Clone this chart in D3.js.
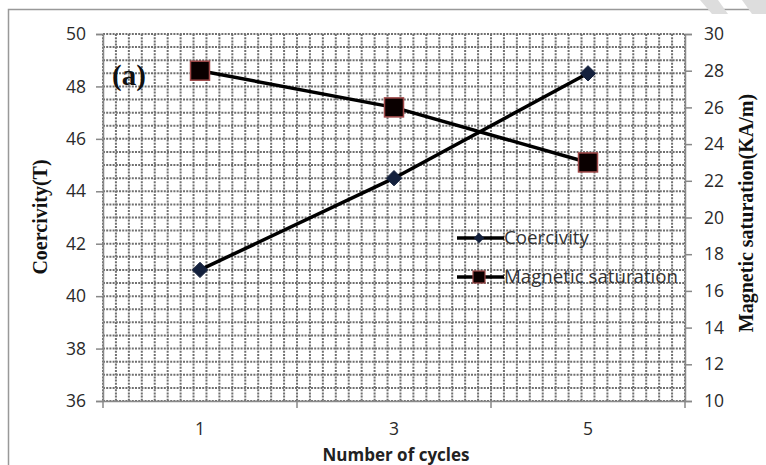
<!DOCTYPE html>
<html><head><meta charset="utf-8">
<script src="https://cdn.jsdelivr.net/npm/d3@7"></script>
<style>body{margin:0;background:#fff}svg{display:block}</style>
</head><body>
<script>
const cycles = ["1","3","5"];
const coercivity = [41, 44.5, 48.5];
const magSat = [28, 26, 23];
const leftTicks = [36,38,40,42,44,46,48,50];
const rightTicks = [10,12,14,16,18,20,22,24,26,28,30];

const W=766,H=465;
const m={l:103,r:685,t:34,b:401};
const svg=d3.select("body").append("svg").attr("width",W).attr("height",H);

svg.append("rect").attr("x",8.5).attr("y",9.5).attr("width",W).attr("height",H).attr("fill","none").attr("stroke","#999").attr("stroke-width",1.5);
svg.append("path").attr("d","M700,0 L718,0 L728,14 L712,14 Z").attr("fill","#ddd");
svg.append("path").attr("d","M742,0 L766,0 L766,14 L752,14 Z").attr("fill","#ddd");

const x=d3.scaleBand().domain(cycles).range([m.l,m.r]);
const yL=d3.scaleLinear().domain([36,50]).range([m.b,m.t]);
const yR=d3.scaleLinear().domain([10,30]).range([m.b,m.t]);

const g=svg.append("g");
const hLines=d3.range(36,50.001,0.5);
g.selectAll("line.h").data(hLines).join("line").attr("class","h")
 .attr("x1",m.l).attr("x2",m.r).attr("y1",d=>yL(d)).attr("y2",d=>yL(d))
 .attr("stroke","#707070").attr("stroke-width",2).attr("stroke-dasharray","2,1.2");
const nV=45;
const vLines=d3.range(0,nV+1).map(i=>m.l+(m.r-m.l)*i/nV);
g.selectAll("line.v").data(vLines).join("line").attr("class","v")
 .attr("x1",d=>d).attr("x2",d=>d).attr("y1",m.t).attr("y2",m.b)
 .attr("stroke","#707070").attr("stroke-width",2).attr("stroke-dasharray","2,1.2");

const tickFont="'Open Sans', 'Liberation Sans', sans-serif";
const axL=svg.append("g").attr("transform",`translate(${m.l},0)`).call(d3.axisLeft(yL).tickValues(leftTicks).tickSize(7).tickPadding(10));
const axR=svg.append("g").attr("transform",`translate(${m.r},0)`).call(d3.axisRight(yR).tickValues(rightTicks).tickSize(7).tickPadding(12));
const axB=svg.append("g").attr("transform",`translate(0,${m.b})`).call(d3.axisBottom(x).tickSize(0).tickPadding(22));
svg.append("g").selectAll("line").data(d3.range(0,cycles.length+1)).join("line")
 .attr("x1",i=>m.l+x.step()*i).attr("x2",i=>m.l+x.step()*i).attr("y1",m.b).attr("y2",m.b+7)
 .attr("stroke","#888").attr("stroke-width",1.5);
[axL,axR,axB].forEach(a=>{
  a.selectAll("path.domain").attr("stroke","#888").attr("stroke-width",1.5);
  a.selectAll(".tick line").attr("stroke","#888").attr("stroke-width",1.5);
  a.selectAll("text").attr("font-family",tickFont).attr("font-size",17.5).attr("fill","#2a2a2a");
});

const serif="'Liberation Serif','DejaVu Serif',serif";
svg.append("text").attr("transform","translate(47,217) rotate(-90)").attr("text-anchor","middle")
 .attr("font-family",serif).attr("font-weight","bold").attr("font-size",20).attr("fill","#111").text("Coercivity(T)");
svg.append("text").attr("transform","translate(753,213) rotate(-90)").attr("text-anchor","middle")
 .attr("font-family",serif).attr("font-weight","bold").attr("font-size",20).attr("fill","#111").text("Magnetic saturation(KA/m)");
svg.append("text").attr("x",396).attr("y",461).attr("text-anchor","middle")
 .attr("font-family",tickFont).attr("font-weight","bold").attr("font-size",17).attr("fill","#222").text("Number of cycles");

svg.append("text").attr("x",112).attr("y",85).attr("font-family",serif).attr("font-weight","bold").attr("font-size",29).attr("fill","#111").text("(a)");

const cx=d=>x(d)+x.bandwidth()/2;
const lineL=d3.line().x((d,i)=>cx(cycles[i])).y(d=>yL(d));
const lineR=d3.line().x((d,i)=>cx(cycles[i])).y(d=>yR(d));
svg.append("path").attr("d",lineL(coercivity)).attr("fill","none").attr("stroke","#000").attr("stroke-width",3.5);
svg.append("path").attr("d",lineR(magSat)).attr("fill","none").attr("stroke","#000").attr("stroke-width",3.5);
svg.selectAll("path.dia").data(coercivity).join("path").attr("class","dia")
 .attr("d",d3.symbol(d3.symbolDiamond2,150)())
 .attr("transform",(d,i)=>`translate(${cx(cycles[i])},${yL(d)})`)
 .attr("fill","#14213d").attr("stroke","#14213d").attr("stroke-width",1);
svg.selectAll("rect.sq").data(magSat).join("rect").attr("class","sq")
 .attr("x",(d,i)=>cx(cycles[i])-9.5).attr("y",d=>yR(d)-9.5).attr("width",19).attr("height",19)
 .attr("fill","#0a0000").attr("stroke","#a04848").attr("stroke-width",1.5);

const lg=svg.append("g");
lg.append("line").attr("x1",457).attr("x2",504).attr("y1",238).attr("y2",238).attr("stroke","#000").attr("stroke-width",3.5);
lg.append("path").attr("d",d3.symbol(d3.symbolDiamond2,70)()).attr("transform","translate(479,238)").attr("fill","#14213d");
lg.append("text").attr("x",504).attr("y",244).attr("font-family",tickFont).attr("font-size",18.7).attr("fill","#333").text("Coercivity");
lg.append("line").attr("x1",457).attr("x2",504).attr("y1",277).attr("y2",277).attr("stroke","#000").attr("stroke-width",3.5);
lg.append("rect").attr("x",473).attr("y",271).attr("width",12).attr("height",12).attr("fill","#0a0000").attr("stroke","#a04848").attr("stroke-width",1.2);
lg.append("text").attr("x",504).attr("y",283).attr("font-family",tickFont).attr("font-size",18.7).attr("fill","#333").text("Magnetic saturation");
</script>
</body></html>
